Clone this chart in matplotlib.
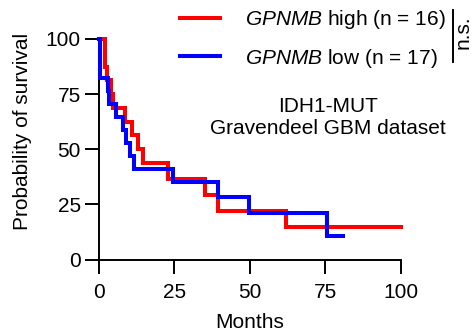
import matplotlib
matplotlib.use("Agg")
import matplotlib.pyplot as plt
from matplotlib.lines import Line2D

plt.rcParams['font.family'] = ['Liberation Sans', 'DejaVu Sans']
plt.rcParams['mathtext.fontset'] = 'custom'
plt.rcParams['mathtext.rm'] = 'Liberation Sans'
plt.rcParams['mathtext.it'] = 'Liberation Sans:italic'

# Kaplan-Meier step data (months, % survival)
high_months = [0, 1.9, 2.7, 4.0, 4.7, 8.6, 11.0, 13.0, 14.7, 22.9, 35.1, 39.3, 61.8, 100]
high_surv = [100, 87.5, 81.25, 75, 68.75, 62.5, 56.25, 50, 43.75, 36.46, 29.17, 21.88, 14.58, 14.58]
low_months = [0, 0.2, 0.4, 3.0, 3.3, 5.6, 7.8, 8.9, 10.3, 11.6, 24.6, 39.5, 49.8, 75.6, 80.8]
low_surv = [100, 88.2, 82.35, 76.5, 70.6, 64.7, 58.8, 52.9, 47.1, 41.2, 35.3, 28.2, 21.2, 10.6, 10.6]

high_label = r"$\mathit{GPNMB}$ high (n = 16)"
low_label = r"$\mathit{GPNMB}$ low (n = 17)"
xticks = [0, 25, 50, 75, 100]
yticks = [0, 25, 50, 75, 100]

FS = 15
fig = plt.figure(figsize=(4.76, 3.34), dpi=100)
ax = fig.add_axes([0.208, 0.2225, 0.634, 0.661])

l1, = ax.step(high_months, high_surv, where='post', color='#ff0000', lw=2.9,
              clip_on=False, solid_joinstyle='miter', zorder=3)
l2, = ax.step(low_months, low_surv, where='post', color='#0000ff', lw=2.9,
              clip_on=False, solid_joinstyle='miter', zorder=4)

ax.set_xlim(0, 100)
ax.set_ylim(0, 100)
ax.set_xticks(xticks)
ax.set_yticks(yticks)
ax.set_xticklabels([str(v) for v in xticks], fontsize=FS)
ax.set_yticklabels([str(v) for v in yticks], fontsize=FS)
for s in ['top', 'right']:
    ax.spines[s].set_visible(False)
for s in ['left', 'bottom']:
    ax.spines[s].set_linewidth(1.4)
ax.tick_params(axis='both', length=10, width=1.4, color='black')
ax.tick_params(axis='x', pad=7)
ax.tick_params(axis='y', pad=3)

ax.set_ylabel("Probability of survival", fontsize=FS)
ax.yaxis.set_label_coords(-0.222, 0.583)
ax.set_xlabel("Months", fontsize=FS, va='top')
ax.xaxis.set_label_coords(0.5, -0.241)

ax.text(0.758, 0.644, "IDH1-MUT\nGravendeel GBM dataset", transform=ax.transAxes,
        ha='center', va='center', multialignment='center', fontsize=FS, linespacing=1.2)

leg = fig.legend([l1, l2], [high_label, low_label], loc='upper left',
                 bbox_to_anchor=(0.378, 0.976), frameon=False, fontsize=FS,
                 handlelength=1.92, handletextpad=1.2, labelspacing=0.75,
                 borderpad=0, borderaxespad=0)

fig.add_artist(Line2D([452.7/476, 452.7/476], [1 - 10/334, 1 - 62/334],
                      transform=fig.transFigure, color='black', lw=1.4))
fig.text(463/476, 1 - 32/334, "n.s.", rotation=90, ha='center', va='center', fontsize=FS)

fig.savefig("out.png", dpi=100)
